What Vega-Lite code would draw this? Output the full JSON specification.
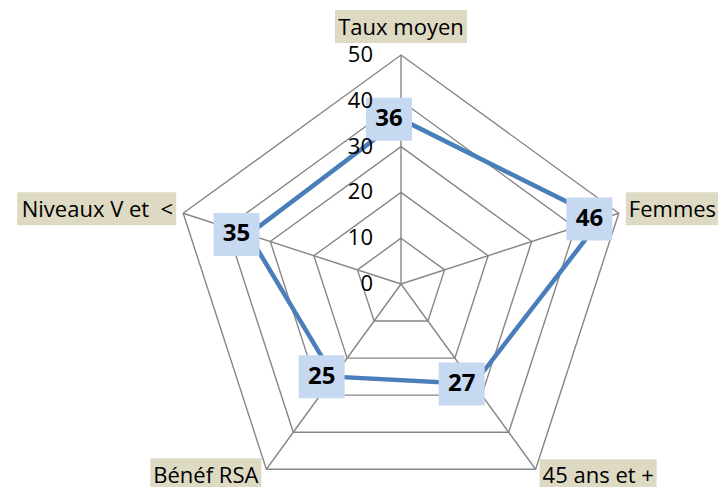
{
  "$schema": "https://vega.github.io/schema/vega-lite/v6.json",
  "width": 718,
  "height": 487,
  "autosize": {"type": "none"},
  "padding": 0,
  "background": "white",
  "config": {"view": {"stroke": null}, "text": {"font": "Open Sans", "color": "black"}},
  "datasets": {
    "axes": [
      {"axis": "Taux moyen", "idx": 0, "value": 36},
      {"axis": "Femmes", "idx": 1, "value": 46},
      {"axis": "45 ans et +", "idx": 2, "value": 27},
      {"axis": "Bénéf RSA", "idx": 3, "value": 25},
      {"axis": "Niveaux V et \u00a0<", "idx": 4, "value": 35}
    ],
    "grid": [
      {"level": 10, "idx": 0}, {"level": 10, "idx": 1}, {"level": 10, "idx": 2}, {"level": 10, "idx": 3}, {"level": 10, "idx": 4},
      {"level": 20, "idx": 0}, {"level": 20, "idx": 1}, {"level": 20, "idx": 2}, {"level": 20, "idx": 3}, {"level": 20, "idx": 4},
      {"level": 30, "idx": 0}, {"level": 30, "idx": 1}, {"level": 30, "idx": 2}, {"level": 30, "idx": 3}, {"level": 30, "idx": 4},
      {"level": 40, "idx": 0}, {"level": 40, "idx": 1}, {"level": 40, "idx": 2}, {"level": 40, "idx": 3}, {"level": 40, "idx": 4},
      {"level": 50, "idx": 0}, {"level": 50, "idx": 1}, {"level": 50, "idx": 2}, {"level": 50, "idx": 3}, {"level": 50, "idx": 4}
    ],
    "levels": [
      {"level": 0}, {"level": 10}, {"level": 20}, {"level": 30}, {"level": 40}, {"level": 50}
    ]
  },
  "layer": [
    {
      "data": {"name": "grid"},
      "transform": [
        {"calculate": "datum.idx * 2 * PI / 5", "as": "a"},
        {"calculate": "datum.level * sin(datum.a)", "as": "gx"},
        {"calculate": "datum.level * cos(datum.a)", "as": "gy"}
      ],
      "mark": {"type": "line", "interpolate": "linear-closed", "color": "#868686", "strokeWidth": 1.4},
      "encoding": {
        "x": {"field": "gx", "type": "quantitative", "scale": {"domain": [-87.55, 69.21], "nice": false, "zero": false}, "axis": null},
        "y": {"field": "gy", "type": "quantitative", "scale": {"domain": [-44.32, 62.01], "nice": false, "zero": false}, "axis": null},
        "detail": {"field": "level", "type": "nominal"},
        "order": {"field": "idx", "type": "quantitative"}
      }
    },
    {
      "data": {"name": "axes"},
      "transform": [
        {"calculate": "datum.idx * 2 * PI / 5", "as": "a"},
        {"calculate": "50 * sin(datum.a)", "as": "sx"},
        {"calculate": "50 * cos(datum.a)", "as": "sy"},
        {"calculate": "0", "as": "zero"}
      ],
      "mark": {"type": "rule", "color": "#868686", "strokeWidth": 1.4},
      "encoding": {
        "x": {"field": "zero", "type": "quantitative", "scale": {"domain": [-87.55, 69.21], "nice": false, "zero": false}, "axis": null},
        "y": {"field": "zero", "type": "quantitative", "scale": {"domain": [-44.32, 62.01], "nice": false, "zero": false}, "axis": null},
        "x2": {"field": "sx"},
        "y2": {"field": "sy"}
      }
    },
    {
      "data": {"name": "axes"},
      "transform": [
        {"calculate": "datum.idx * 2 * PI / 5", "as": "a"},
        {"calculate": "datum.value * sin(datum.a)", "as": "px"},
        {"calculate": "datum.value * cos(datum.a)", "as": "py"}
      ],
      "mark": {"type": "line", "interpolate": "linear-closed", "color": "#4a7ebb", "strokeWidth": 4.5, "strokeJoin": "miter"},
      "encoding": {
        "x": {"field": "px", "type": "quantitative", "scale": {"domain": [-87.55, 69.21], "nice": false, "zero": false}, "axis": null},
        "y": {"field": "py", "type": "quantitative", "scale": {"domain": [-44.32, 62.01], "nice": false, "zero": false}, "axis": null},
        "order": {"field": "idx", "type": "quantitative"}
      }
    },
    {
      "data": {"name": "axes"},
      "transform": [
        {"calculate": "datum.idx * 2 * PI / 5", "as": "a"},
        {"calculate": "datum.value * sin(datum.a)", "as": "px"},
        {"calculate": "datum.value * cos(datum.a)", "as": "py"}
      ],
      "mark": {"type": "point", "shape": "M-35,-21.5H11V21.5H-35Z", "size": 4, "filled": true, "color": "#c6d9f1", "opacity": 1, "strokeWidth": 0},
      "encoding": {
        "x": {"field": "px", "type": "quantitative", "scale": {"domain": [-87.55, 69.21], "nice": false, "zero": false}, "axis": null},
        "y": {"field": "py", "type": "quantitative", "scale": {"domain": [-44.32, 62.01], "nice": false, "zero": false}, "axis": null}
      }
    },
    {
      "data": {"name": "axes"},
      "transform": [
        {"calculate": "datum.idx * 2 * PI / 5", "as": "a"},
        {"calculate": "datum.value * sin(datum.a)", "as": "px"},
        {"calculate": "datum.value * cos(datum.a)", "as": "py"}
      ],
      "mark": {"type": "text", "font": "Open Sans", "fontSize": 24, "fontWeight": "bold", "color": "black", "align": "center", "baseline": "middle", "dx": -12},
      "encoding": {
        "x": {"field": "px", "type": "quantitative", "scale": {"domain": [-87.55, 69.21], "nice": false, "zero": false}, "axis": null},
        "y": {"field": "py", "type": "quantitative", "scale": {"domain": [-44.32, 62.01], "nice": false, "zero": false}, "axis": null},
        "text": {"field": "value", "type": "quantitative"}
      }
    },
    {
      "data": {"name": "axes"},
      "transform": [
        {"calculate": "datum.idx * 2 * PI / 5", "as": "a"},
        {"calculate": "50 * sin(datum.a)", "as": "sx"},
        {"calculate": "50 * cos(datum.a)", "as": "sy"}
      ],
      "mark": {"type": "point", "size": 4, "filled": true, "color": "#ddd9c3", "opacity": 1, "strokeWidth": 0},
      "encoding": {
        "x": {"field": "sx", "type": "quantitative", "scale": {"domain": [-87.55, 69.21], "nice": false, "zero": false}, "axis": null},
        "y": {"field": "sy", "type": "quantitative", "scale": {"domain": [-44.32, 62.01], "nice": false, "zero": false}, "axis": null},
        "shape": {
          "field": "axis",
          "type": "nominal",
          "legend": null,
          "scale": {
            "domain": ["Taux moyen", "Femmes", "45 ans et +", "Bénéf RSA", "Niveaux V et \u00a0<"],
            "range": ["M-66,-45H66V-12H-66Z", "M7,-21H101V12H7Z", "M4,-10H121V23H4Z", "M-116,-11H-5V22H-116Z", "M-166,-21H-7V12H-166Z"]
          }
        }
      }
    },
    {
      "data": {"name": "axes"},
      "transform": [
        {"filter": "datum.idx == 0"},
        {"calculate": "datum.idx * 2 * PI / 5", "as": "a"},
        {"calculate": "50 * sin(datum.a)", "as": "sx"},
        {"calculate": "50 * cos(datum.a)", "as": "sy"}
      ],
      "mark": {"type": "text", "font": "Open Sans", "fontSize": 22, "color": "black", "align": "center", "baseline": "alphabetic", "dy": -20},
      "encoding": {
        "x": {"field": "sx", "type": "quantitative", "scale": {"domain": [-87.55, 69.21], "nice": false, "zero": false}, "axis": null},
        "y": {"field": "sy", "type": "quantitative", "scale": {"domain": [-44.32, 62.01], "nice": false, "zero": false}, "axis": null},
        "text": {"field": "axis", "type": "nominal"}
      }
    },
    {
      "data": {"name": "axes"},
      "transform": [
        {"filter": "datum.idx == 1"},
        {"calculate": "datum.idx * 2 * PI / 5", "as": "a"},
        {"calculate": "50 * sin(datum.a)", "as": "sx"},
        {"calculate": "50 * cos(datum.a)", "as": "sy"}
      ],
      "mark": {"type": "text", "font": "Open Sans", "fontSize": 22, "color": "black", "align": "left", "baseline": "alphabetic", "dx": 10, "dy": 4},
      "encoding": {
        "x": {"field": "sx", "type": "quantitative", "scale": {"domain": [-87.55, 69.21], "nice": false, "zero": false}, "axis": null},
        "y": {"field": "sy", "type": "quantitative", "scale": {"domain": [-44.32, 62.01], "nice": false, "zero": false}, "axis": null},
        "text": {"field": "axis", "type": "nominal"}
      }
    },
    {
      "data": {"name": "axes"},
      "transform": [
        {"filter": "datum.idx == 2"},
        {"calculate": "datum.idx * 2 * PI / 5", "as": "a"},
        {"calculate": "50 * sin(datum.a)", "as": "sx"},
        {"calculate": "50 * cos(datum.a)", "as": "sy"}
      ],
      "mark": {"type": "text", "font": "Open Sans", "fontSize": 22, "color": "black", "align": "left", "baseline": "alphabetic", "dx": 7, "dy": 14},
      "encoding": {
        "x": {"field": "sx", "type": "quantitative", "scale": {"domain": [-87.55, 69.21], "nice": false, "zero": false}, "axis": null},
        "y": {"field": "sy", "type": "quantitative", "scale": {"domain": [-44.32, 62.01], "nice": false, "zero": false}, "axis": null},
        "text": {"field": "axis", "type": "nominal"}
      }
    },
    {
      "data": {"name": "axes"},
      "transform": [
        {"filter": "datum.idx == 3"},
        {"calculate": "datum.idx * 2 * PI / 5", "as": "a"},
        {"calculate": "50 * sin(datum.a)", "as": "sx"},
        {"calculate": "50 * cos(datum.a)", "as": "sy"}
      ],
      "mark": {"type": "text", "font": "Open Sans", "fontSize": 22, "color": "black", "align": "right", "baseline": "alphabetic", "dx": -8, "dy": 14},
      "encoding": {
        "x": {"field": "sx", "type": "quantitative", "scale": {"domain": [-87.55, 69.21], "nice": false, "zero": false}, "axis": null},
        "y": {"field": "sy", "type": "quantitative", "scale": {"domain": [-44.32, 62.01], "nice": false, "zero": false}, "axis": null},
        "text": {"field": "axis", "type": "nominal"}
      }
    },
    {
      "data": {"name": "axes"},
      "transform": [
        {"filter": "datum.idx == 4"},
        {"calculate": "datum.idx * 2 * PI / 5", "as": "a"},
        {"calculate": "50 * sin(datum.a)", "as": "sx"},
        {"calculate": "50 * cos(datum.a)", "as": "sy"}
      ],
      "mark": {"type": "text", "font": "Open Sans", "fontSize": 22, "color": "black", "align": "right", "baseline": "alphabetic", "dx": -10, "dy": 4},
      "encoding": {
        "x": {"field": "sx", "type": "quantitative", "scale": {"domain": [-87.55, 69.21], "nice": false, "zero": false}, "axis": null},
        "y": {"field": "sy", "type": "quantitative", "scale": {"domain": [-44.32, 62.01], "nice": false, "zero": false}, "axis": null},
        "text": {"field": "axis", "type": "nominal"}
      }
    },
    {
      "data": {"name": "levels"},
      "transform": [{"calculate": "0", "as": "zero"}],
      "mark": {"type": "text", "font": "Open Sans", "fontSize": 22, "color": "black", "align": "right", "baseline": "middle", "dx": -28},
      "encoding": {
        "x": {"field": "zero", "type": "quantitative", "scale": {"domain": [-87.55, 69.21], "nice": false, "zero": false}, "axis": null},
        "y": {"field": "level", "type": "quantitative", "scale": {"domain": [-44.32, 62.01], "nice": false, "zero": false}, "axis": null},
        "text": {"field": "level", "type": "quantitative"}
      }
    }
  ]
}
